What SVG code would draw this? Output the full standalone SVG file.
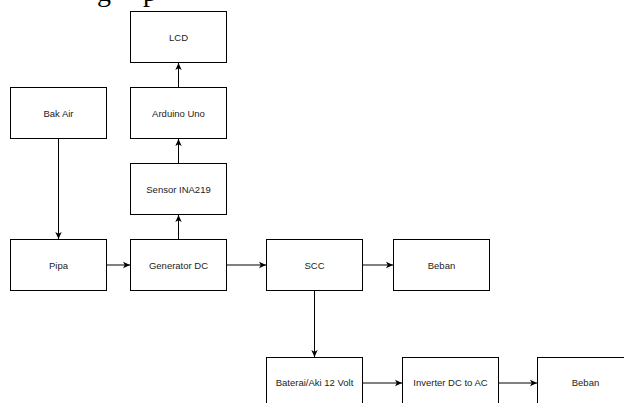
<svg xmlns="http://www.w3.org/2000/svg" width="624" height="403" viewBox="0 0 624 403">
<style>
.box{fill:#fff;stroke:#000;stroke-width:1}
.lbl{font-family:"Liberation Sans",Arial,sans-serif;font-size:9.5px;fill:#222;text-anchor:middle}
.edge{stroke:#000;stroke-width:1;fill:none;marker-end:url(#arr)}
.doc{font-family:"Liberation Serif","Times New Roman",serif;font-size:28px;fill:#000}
</style>
<defs>
<marker id="arr" viewBox="0 0 8 8" refX="7" refY="4" markerWidth="8" markerHeight="8" markerUnits="userSpaceOnUse" orient="auto">
<path d="M0,0.8 L7,4 L0,7.2 L1.8,4 Z" fill="#000"/>
</marker>
</defs>
<rect width="624" height="403" fill="#fff"/>
<text class="doc" x="97" y="0.5">g</text>
<text class="doc" x="143" y="0.5">p</text>
<g id="lcd"><rect class="box" x="130.5" y="11.5" width="96" height="51"/><text class="lbl" x="178.5" y="40.5">LCD</text></g>
<g id="bakair"><rect class="box" x="10.5" y="87.5" width="96" height="51"/><text class="lbl" x="58.5" y="116.5">Bak Air</text></g>
<g id="arduino"><rect class="box" x="130.5" y="87.5" width="96" height="51"/><text class="lbl" x="178.5" y="116.5">Arduino Uno</text></g>
<g id="sensor"><rect class="box" x="130.5" y="163.5" width="96" height="51"/><text class="lbl" x="178.5" y="192.5">Sensor INA219</text></g>
<g id="pipa"><rect class="box" x="10.5" y="239.5" width="96" height="51"/><text class="lbl" x="58.5" y="268.5">Pipa</text></g>
<g id="generator"><rect class="box" x="130.5" y="239.5" width="96" height="51"/><text class="lbl" x="178.5" y="268.5">Generator DC</text></g>
<g id="scc"><rect class="box" x="266.5" y="239.5" width="96" height="51"/><text class="lbl" x="314.5" y="268.5">SCC</text></g>
<g id="beban1"><rect class="box" x="393.5" y="239.5" width="96" height="51"/><text class="lbl" x="441.5" y="268.5">Beban</text></g>
<g id="baterai"><rect class="box" x="266.5" y="357.5" width="96" height="51"/><text class="lbl" x="314.5" y="386">Baterai/Aki 12 Volt</text></g>
<g id="inverter"><rect class="box" x="402.5" y="357.5" width="96" height="51"/><text class="lbl" x="450.5" y="386">Inverter DC to AC</text></g>
<g id="beban2"><rect class="box" x="537.5" y="357.5" width="96" height="51"/><text class="lbl" x="585.5" y="386">Beban</text></g>
<g id="connectors">
<line class="edge" x1="58.5" y1="138.5" x2="58.5" y2="239"/>
<line class="edge" x1="106.5" y1="265" x2="130" y2="265"/>
<line class="edge" x1="178.5" y1="239.5" x2="178.5" y2="215"/>
<line class="edge" x1="178.5" y1="163.5" x2="178.5" y2="139"/>
<line class="edge" x1="178.5" y1="87.5" x2="178.5" y2="63"/>
<line class="edge" x1="226.5" y1="265" x2="266" y2="265"/>
<line class="edge" x1="362.5" y1="265" x2="393" y2="265"/>
<line class="edge" x1="314.5" y1="290.5" x2="314.5" y2="357"/>
<line class="edge" x1="362.5" y1="383" x2="402" y2="383"/>
<line class="edge" x1="498.5" y1="383" x2="537" y2="383"/>
</g>
</svg>
